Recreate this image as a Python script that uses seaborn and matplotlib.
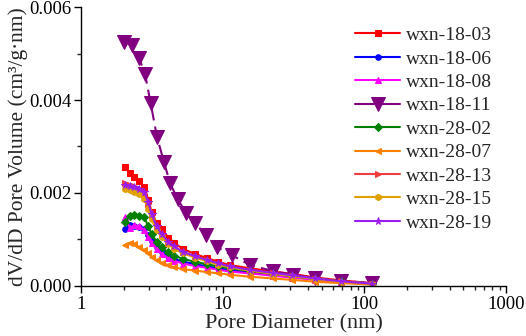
import numpy as np
import pandas as pd
import seaborn as sns
import matplotlib.pyplot as plt
from matplotlib.ticker import FixedLocator, FixedFormatter, MultipleLocator, LogLocator, NullFormatter

# pore diameters (nm)
pore_d = [2.05, 2.22, 2.38, 2.58, 2.8, 2.98, 3.15, 3.42, 3.71, 4.13, 4.55, 5.27,
          6.37, 7.7, 9.3, 11.2, 15.5, 22.6, 31, 45, 68, 113]
pore_d_1811 = [2.01, 2.28, 2.57, 2.83, 3.10, 3.44, 3.85, 4.25, 4.81, 5.51, 6.38,
               7.6, 9.07, 11.6, 15.6, 22.6, 31.3, 44.8, 68.3, 113]

wxn_18_03 = [0.00255, 0.00242, 0.00234, 0.00226, 0.00213, 0.00185, 0.00160, 0.00135, 0.00122, 0.00104, 0.00093,
             0.00079, 0.00069, 0.00060, 0.00052, 0.00045, 0.00038, 0.00031, 0.00026, 0.00018, 0.00012, 0.00006]
wxn_18_06 = [0.00122, 0.00131, 0.00129, 0.00126, 0.00122, 0.00110, 0.00097, 0.00084, 0.00074, 0.00064, 0.00058,
             0.00052, 0.00047, 0.00042, 0.00038, 0.00034, 0.00029, 0.00024, 0.00019, 0.00014, 0.00009, 0.00004]
wxn_18_08 = [0.00148, 0.00124, 0.00131, 0.00128, 0.00120, 0.00105, 0.00092, 0.00079, 0.00069, 0.00060, 0.00054,
             0.00048, 0.00043, 0.00039, 0.00035, 0.00031, 0.00027, 0.00022, 0.00018, 0.00013, 0.00008, 0.00004]
wxn_18_11 = [0.00525, 0.00518, 0.00490, 0.00456, 0.00394, 0.00320, 0.00267, 0.00221, 0.00187, 0.00157,
             0.00135, 0.00110, 0.00084, 0.00066, 0.00045, 0.00032, 0.00024, 0.00017, 0.00011, 0.00006]
wxn_28_02 = [0.00138, 0.00151, 0.00153, 0.00151, 0.00148, 0.00128, 0.00112, 0.00095, 0.00083, 0.00072, 0.00065,
             0.00058, 0.00052, 0.00047, 0.00042, 0.00038, 0.00032, 0.00026, 0.00021, 0.00015, 0.00010, 0.00005]
wxn_28_07 = [0.00088, 0.00093, 0.00090, 0.00083, 0.00077, 0.00070, 0.00063, 0.00056, 0.00050, 0.00045, 0.00040,
             0.00036, 0.00033, 0.00030, 0.00027, 0.00024, 0.00020, 0.00016, 0.00013, 0.00009, 0.00006, 0.00003]
wxn_28_13 = [0.00222, 0.00218, 0.00214, 0.00208, 0.00198, 0.00176, 0.00152, 0.00126, 0.00110, 0.00093, 0.00083,
             0.00072, 0.00063, 0.00055, 0.00048, 0.00041, 0.00034, 0.00027, 0.00022, 0.00015, 0.00010, 0.00005]
wxn_28_15 = [0.00208, 0.00207, 0.00203, 0.00197, 0.00188, 0.00165, 0.00143, 0.00120, 0.00105, 0.00090, 0.00080,
             0.00070, 0.00061, 0.00053, 0.00046, 0.00040, 0.00033, 0.00026, 0.00021, 0.00015, 0.00009, 0.00005]
wxn_28_19 = [0.00217, 0.00215, 0.00212, 0.00209, 0.00202, 0.00180, 0.00155, 0.00128, 0.00112, 0.00095, 0.00085,
             0.00073, 0.00064, 0.00056, 0.00049, 0.00042, 0.00035, 0.00028, 0.00023, 0.00016, 0.00010, 0.00005]

x_ticks = [1, 10, 100, 1000]
x_tick_labels = ['1', '10', '100', '1000']
y_ticks = [0.000, 0.002, 0.004, 0.006]
y_tick_labels = ['0.000', '0.002', '0.004', '0.006']

sns.set_style('ticks')
plt.rcParams['font.family'] = ['Liberation Serif', 'DejaVu Serif']

fig = plt.figure(figsize=(5.26, 3.36), dpi=100)
ax = fig.add_axes([0.154, 0.149, 0.808, 0.830])

# name, x, y, color, marker, size, linestyle
series = [
    ('wxn-18-03', pore_d, wxn_18_03, '#ff0000', 's', 4, '-'),
    ('wxn-18-06', pore_d, wxn_18_06, '#0000ff', 'o', 4, '-'),
    ('wxn-18-08', pore_d, wxn_18_08, '#ff00ff', '^', 4.5, '-'),
    ('wxn-18-11', pore_d_1811, wxn_18_11, '#800080', 'v', 10, (0, (6, 3))),
    ('wxn-28-02', pore_d, wxn_28_02, '#008000', 'D', 4, '-'),
    ('wxn-28-07', pore_d, wxn_28_07, '#ff8000', '<', 4.5, '-'),
    ('wxn-28-13', pore_d, wxn_28_13, '#f03c3c', '>', 4.5, '-'),
    ('wxn-28-15', pore_d, wxn_28_15, '#e0a000', 'h', 4.5, '-'),
    ('wxn-28-19', pore_d, wxn_28_19, '#9a1cf0', '*', 5.5, '-'),
]

for name, xs, ys, col, mk, ms, ls in series:
    df = pd.DataFrame({'d': xs, 'v': ys})
    sns.lineplot(data=df, x='d', y='v', ax=ax, color=col, marker=mk, markersize=ms,
                 markeredgecolor=col, linewidth=1.5, linestyle=ls, label=name)

ax.set_xscale('log')
ax.set_xlim(1, 1000)
ax.set_ylim(0, 0.006)
ax.xaxis.set_major_locator(FixedLocator(x_ticks))
ax.xaxis.set_major_formatter(FixedFormatter(x_tick_labels))
ax.xaxis.set_minor_locator(LogLocator(base=10, subs=np.arange(2, 10)))
ax.xaxis.set_minor_formatter(NullFormatter())
ax.yaxis.set_major_locator(FixedLocator(y_ticks))
ax.yaxis.set_major_formatter(FixedFormatter(y_tick_labels))
ax.yaxis.set_minor_locator(MultipleLocator(0.001))

ax.tick_params(axis='both', which='major', direction='out', length=5, width=1, labelsize=13.5,
               colors='black', pad=2)
ax.tick_params(axis='both', which='minor', direction='out', length=3, width=1)
for s in ['top', 'right']:
    ax.spines[s].set_visible(False)
for s in ['left', 'bottom']:
    ax.spines[s].set_linewidth(1)
    ax.spines[s].set_color('black')

ax.set_xlabel('Pore Diameter (nm)', fontsize=16, labelpad=1)
ax.set_ylabel('dV/dD Pore Volume (cm³/g·nm)', fontsize=15.5, labelpad=1)

leg = ax.legend(loc='upper right', bbox_to_anchor=(0.985, 0.958), frameon=False, fontsize=14,
                handlelength=2.3, labelspacing=0.30, handletextpad=0.3, borderaxespad=0.0)
for h in leg.get_lines():
    h.set_linestyle('-')

fig.savefig('out.png', dpi=100)
